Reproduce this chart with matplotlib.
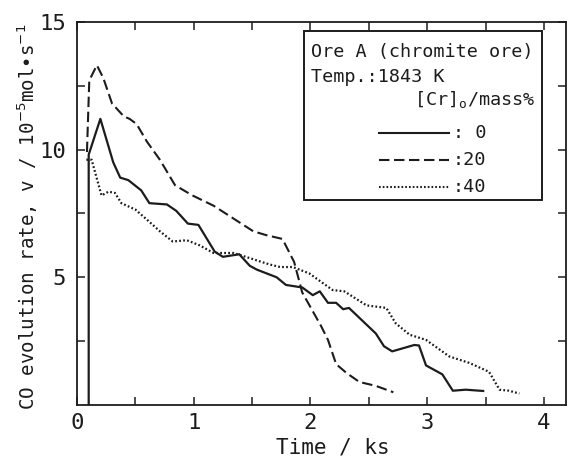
import matplotlib
matplotlib.use("Agg")
import matplotlib.pyplot as plt
from matplotlib.ticker import MultipleLocator, FixedLocator

# [Cr]0 = 0 mass%
t_0 = [0.10, 0.10, 0.20, 0.31, 0.37, 0.44, 0.55, 0.62, 0.77, 0.85, 0.95, 1.04,
       1.18, 1.25, 1.39, 1.48, 1.54, 1.71, 1.79, 1.93, 2.02, 2.08, 2.15, 2.22,
       2.28, 2.33, 2.56, 2.63, 2.70, 2.89, 2.93, 2.99, 3.13, 3.22, 3.33, 3.48]
v_0 = [0.0, 9.8, 11.2, 9.5, 8.9, 8.8, 8.4, 7.9, 7.85, 7.6, 7.1, 7.05,
       6.0, 5.8, 5.9, 5.45, 5.3, 5.0, 4.7, 4.6, 4.3, 4.45, 4.0, 4.0,
       3.75, 3.8, 2.8, 2.3, 2.1, 2.35, 2.33, 1.55, 1.2, 0.56, 0.6, 0.55]

# [Cr]0 = 20 mass%
t_20 = [0.085, 0.105, 0.17, 0.225, 0.30, 0.40, 0.45, 0.51, 0.60, 0.71, 0.84,
        0.99, 1.17, 1.34, 1.51, 1.62, 1.76, 1.86, 1.93, 2.09, 2.15, 2.22, 2.31,
        2.42, 2.56, 2.71]
v_20 = [9.9, 12.7, 13.3, 12.8, 11.8, 11.3, 11.2, 11.0, 10.3, 9.6, 8.6,
        8.2, 7.8, 7.3, 6.8, 6.65, 6.5, 5.6, 4.4, 3.1, 2.55, 1.6, 1.25,
        0.9, 0.75, 0.5]

# [Cr]0 = 40 mass%
t_40 = [0.08, 0.125, 0.21, 0.27, 0.325, 0.38, 0.50, 0.60, 0.71, 0.82, 0.94,
        1.05, 1.17, 1.34, 1.48, 1.65, 1.74, 1.85, 1.99, 2.19, 2.29, 2.48, 2.65,
        2.73, 2.85, 2.99, 3.19, 3.36, 3.53, 3.62, 3.70, 3.79]
v_40 = [9.6, 9.6, 8.2, 8.35, 8.3, 7.9, 7.65, 7.25, 6.8, 6.4, 6.45,
        6.25, 5.95, 5.95, 5.75, 5.5, 5.4, 5.4, 5.15, 4.5, 4.45, 3.9, 3.8,
        3.2, 2.75, 2.55, 1.9, 1.65, 1.3, 0.6, 0.56, 0.45]

plt.rcParams['font.family'] = ['DejaVu Sans Mono', 'DejaVu Sans']
ink = '#1c1c1c'

fig = plt.figure(figsize=(5.68, 4.59), dpi=100)
ax = fig.add_axes([0.1356, 0.1176, 0.861, 0.835])

ax.plot(t_0, v_0, color=ink, lw=1.6, ls='-')
ax.plot(t_20, v_20, color=ink, lw=1.5, dashes=(5, 2.2))
ax.plot(t_40, v_40, color=ink, lw=1.6, dashes=(0.8, 1.0))

ax.set_xlim(0, 4.19)
ax.set_ylim(0, 15)

ax.xaxis.set_major_locator(FixedLocator([0, 1, 2, 3, 4]))
ax.xaxis.set_minor_locator(MultipleLocator(0.5))
ax.yaxis.set_major_locator(FixedLocator([5, 10, 15]))
ax.yaxis.set_minor_locator(FixedLocator([2.5, 7.5, 12.5]))
ax.tick_params(which='both', direction='in', length=6, width=1.1, color=ink,
               top=True, right=True, labelsize=16, labelcolor=ink)
ax.tick_params(axis='x', pad=6)
ax.tick_params(axis='y', pad=8)
for s in ax.spines.values():
    s.set_linewidth(1.3)
    s.set_color(ink)

ax.set_xlabel('Time / ks', fontsize=15, color=ink)
ax.xaxis.set_label_coords(0.524, -0.085)
ax.set_ylabel('CO evolution rate, v / 10$^{-5}$mol\u2022s$^{-1}$',
              fontsize=13.8, color=ink)
ax.yaxis.set_label_coords(-0.076, 0.49)

# legend box
box = plt.Rectangle((0.465, 0.535), 0.486, 0.441, transform=ax.transAxes,
                    fill=True, facecolor='white', edgecolor=ink, lw=1.4, zorder=5)
ax.add_patch(box)
kw = dict(transform=ax.transAxes, fontsize=13.3, color=ink, va='center', zorder=6)
ax.text(0.478, 0.922, 'Ore A (chromite ore)', ha='left', **kw)
ax.text(0.478, 0.856, 'Temp.:1843 K', ha='left', **kw)
ax.text(0.937, 0.796, '[Cr]$_{\\mathregular{o}}$/mass%', ha='right', **kw)
labels = [': 0', ':20', ':40']
styles = [dict(ls='-'), dict(dashes=(5, 2.2)), dict(dashes=(0.8, 1.0))]
ys = [0.710, 0.640, 0.569]
for lab, st, y in zip(labels, styles, ys):
    ax.plot([0.618, 0.761], [y, y], transform=ax.transAxes, color=ink, lw=1.5,
            zorder=6, **st)
    ax.text(0.768, y, lab, ha='left', **kw)

fig.savefig('out.png', dpi=100)
